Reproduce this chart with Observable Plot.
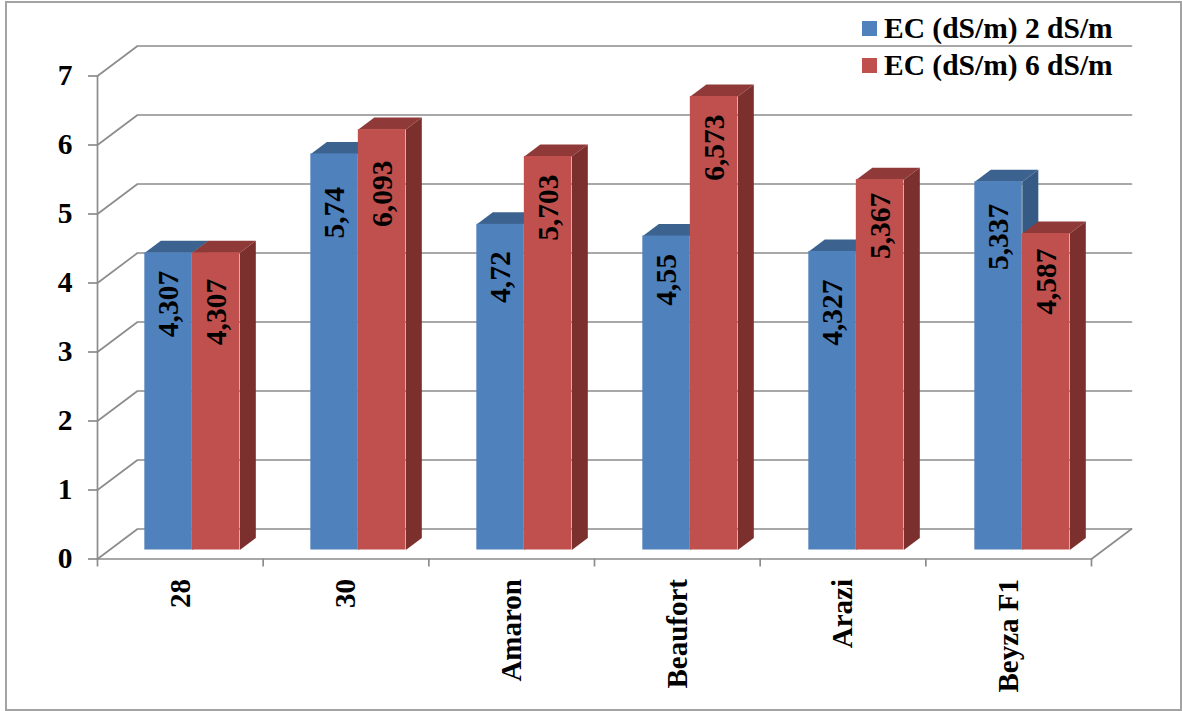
<!DOCTYPE html>
<html>
<head>
<meta charset="utf-8">
<script src="https://cdn.jsdelivr.net/npm/d3@7"></script>
<script src="https://cdn.jsdelivr.net/npm/@observablehq/plot@0.6"></script>
<style>
  html, body { margin: 0; padding: 0; background: #fff; }
  #chart { position: relative; width: 1182px; height: 711px; overflow: hidden; }
  #chart svg { position: absolute; left: 0; top: 0; }
  #border { position: absolute; left: 4.5px; top: 1px; width: 1173px; height: 706px; border: 2px solid #a3a3a3; }
  .legend { position: absolute; left: 862px; font: bold 29.5px "Liberation Serif", serif; color: #000; white-space: nowrap; }
  .legend i { position: absolute; left: 0; top: 10px; width: 15px; height: 15px; }
  .legend span { position: absolute; left: 22px; top: 0; line-height: 34px; }
</style>
</head>
<body>
<div id="chart"><div id="border"></div></div>
<script>
const categories = ["28", "30", "Amaron", "Beaufort", "Arazi", "Beyza F1"];
const seriesNames = ["EC (dS/m) 2 dS/m", "EC (dS/m) 6 dS/m"];
const ec2 = [4.307, 5.74, 4.72, 4.55, 4.327, 5.337];
const ec6 = [4.307, 6.093, 5.703, 6.573, 5.367, 4.587];
const yTicks = [0, 1, 2, 3, 4, 5, 6, 7];

// Drawing styles, kept apart from the values.
const palette = [
  {front: "#4f81bd", top: "#3c6390", side: "#355a84"},
  {front: "#c0504d", top: "#8f3a38", side: "#7c302e"}
];
const gridColor = "#8c8c8c";
const serif = "Liberation Serif, serif";

// Oblique projection: a point at depth d (0 front, 1 back wall) shifts right and up.
const skewX = 0.2414;
const skewY = 0.4348;
const at = (u, v, d) => ({x: u + d * skewX, y: v + d * skewY});

// The bars stand between these two depths and each takes this share of a category.
const barFront = 0.3;
const barBack = 0.7;
const barWidth = 0.2867;
const groupStep = 1.002;

// Gridlines fold from the front axis back along the wall.
const gridPaths = yTicks.flatMap((v) =>
  [at(0, v, 0), at(0, v, 1), at(6, v, 1)].map((p) => ({...p, id: v}))
);
const floorEdge = [at(0, 0, 0), at(6, 0, 0), at(6, 0, 1)];

const bars = [ec2, ec6].flatMap((values, s) =>
  values.map((v, i) => {
    const u0 = i * groupStep + 0.5 + (s - 1) * barWidth;
    return {s, i, v, u0, u1: u0 + barWidth, label: String(v).replace(".", ",")};
  })
);

// Side and top faces are closed polygons; blue ones go first so the red bar covers them.
const faces = bars.flatMap((b) => {
  const {u0, u1, v} = b;
  const top = [at(u0, v, barFront), at(u0, v, barBack), at(u1, v, barBack), at(u1, v, barFront)];
  const side = [at(u1, 0, barFront), at(u1, 0, barBack), at(u1, v, barBack), at(u1, v, barFront)];
  const id = `${b.s}-${b.i}`;
  return [
    ...top.map((p) => ({...p, id: id + "t", color: palette[b.s].top})),
    ...side.map((p) => ({...p, id: id + "s", color: palette[b.s].side}))
  ];
});

// Distance of each value label from its bar's top edge, in pixels.
const labelGap = [[18, 33, 27, 18, 28, 22], [26, 31, 18, 18, 13, 15]];

const plot = Plot.plot({
  width: 1182,
  height: 711,
  marginLeft: 97,
  marginRight: 91,
  marginTop: 75.5,
  marginBottom: 152.5,
  style: {background: "transparent", fontFamily: serif},
  x: {domain: [0, 6], range: [97, 1091]},
  y: {domain: [0, 7], range: [558.5, 75.5]},
  marks: [
    Plot.line(gridPaths, {x: "x", y: "y", z: "id", stroke: gridColor, strokeWidth: 1.7}),
    Plot.line(floorEdge, {x: "x", y: "y", stroke: gridColor, strokeWidth: 1.7}),
    Plot.ruleX([0], {y1: 0, y2: 7, stroke: gridColor, strokeWidth: 1.7}),
    Plot.axisY({
      ticks: yTicks, tickSize: 9, tickPadding: 16, tickFormat: "d", label: null,
      stroke: gridColor, strokeWidth: 1.7,
      fontSize: 29.5, fontWeight: "bold", fill: "#000"
    }),
    Plot.axisX({
      ticks: d3.range(7), tickSize: 8, tickFormat: () => "", label: null,
      stroke: gridColor, strokeWidth: 1.7
    }),
    Plot.line(faces, {x: "x", y: "y", z: "id", fill: "color", stroke: null}),
    Plot.rect(bars, {
      x1: (d) => at(d.u0, 0, barFront).x,
      x2: (d) => at(d.u1, 0, barFront).x,
      y1: (d) => at(d.u0, 0, barFront).y,
      y2: (d) => at(d.u0, d.v, barFront).y,
      fill: (d) => palette[d.s].front,
      inset: 0
    }),
    Plot.text(bars, {
      x: (d) => at((d.u0 + d.u1) / 2, d.v, barFront).x,
      y: (d) => at(d.u0, d.v, barFront).y,
      text: "label",
      rotate: -90,
      textAnchor: "end",
      fontSize: 29.5,
      fontWeight: "bold",
      fill: "#000",
      render(index, scales, values, dimensions, context, next) {
        // Each label sits its own distance below the bar top.
        const shifted = Float64Array.from(values.y, (y, j) => y + labelGap[bars[j].s][bars[j].i]);
        return next(index, scales, {...values, y: shifted}, dimensions, context);
      }
    }),
    Plot.text(categories, {
      x: (d, i) => i + 0.5,
      y: () => 0,
      text: (d) => d,
      rotate: -90,
      textAnchor: "end",
      dy: 20,
      fontSize: 29,
      fontWeight: "bold",
      fill: "#000"
    })
  ]
});

const chart = document.getElementById("chart");
chart.appendChild(plot);

// Legend in the top right corner, above the chart area.
seriesNames.forEach((name, s) => {
  const row = document.createElement("div");
  row.className = "legend";
  row.style.top = `${11 + s * 36.5}px`;
  const swatch = document.createElement("i");
  swatch.style.background = palette[s].front;
  const text = document.createElement("span");
  text.textContent = name;
  row.append(swatch, text);
  chart.appendChild(row);
});
</script>
</body>
</html>
